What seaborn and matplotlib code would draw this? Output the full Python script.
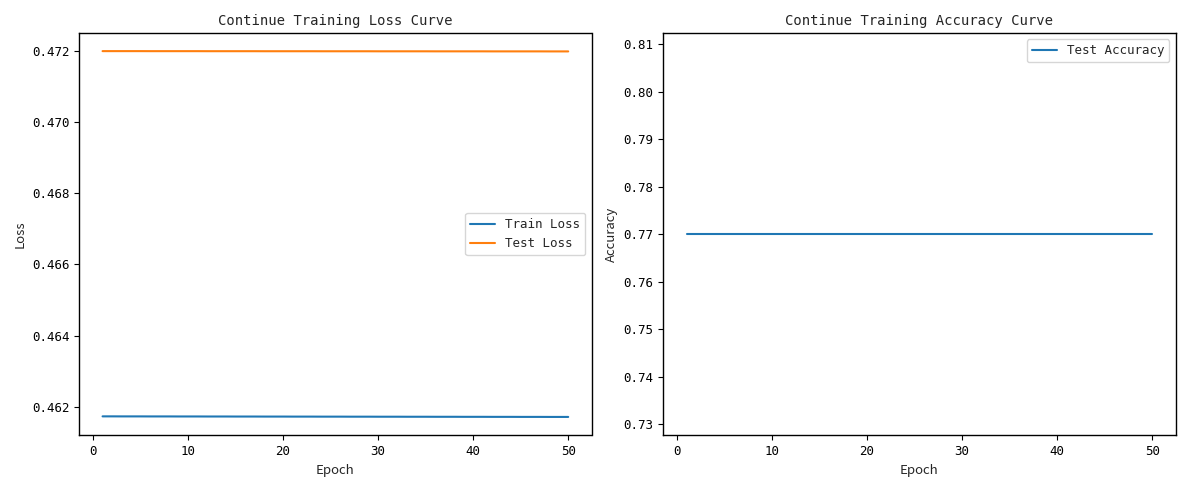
import matplotlib
matplotlib.use("Agg")
import matplotlib.pyplot as plt
import seaborn as sns

epochs = list(range(1, 51))
train_loss = [0.461735, 0.461735, 0.461734, 0.461734, 0.461734, 0.461733, 0.461733, 0.461733, 0.461732, 0.461732,
              0.461732, 0.461731, 0.461731, 0.461731, 0.461730, 0.461730, 0.461730, 0.461729, 0.461729, 0.461729,
              0.461728, 0.461728, 0.461728, 0.461727, 0.461727, 0.461727, 0.461726, 0.461726, 0.461726, 0.461725,
              0.461725, 0.461725, 0.461724, 0.461724, 0.461724, 0.461723, 0.461723, 0.461723, 0.461722, 0.461722,
              0.461722, 0.461721, 0.461721, 0.461721, 0.461720, 0.461720, 0.461720, 0.461719, 0.461719, 0.461719]
test_loss = [0.471990, 0.471990, 0.471990, 0.471990, 0.471990, 0.471989, 0.471989, 0.471989, 0.471989, 0.471989,
             0.471989, 0.471988, 0.471988, 0.471988, 0.471988, 0.471988, 0.471988, 0.471987, 0.471987, 0.471987,
             0.471987, 0.471987, 0.471987, 0.471986, 0.471986, 0.471986, 0.471986, 0.471986, 0.471986, 0.471985,
             0.471985, 0.471985, 0.471985, 0.471985, 0.471985, 0.471984, 0.471984, 0.471984, 0.471984, 0.471984,
             0.471984, 0.471983, 0.471983, 0.471983, 0.471983, 0.471983, 0.471983, 0.471982, 0.471982, 0.471982]
test_acc = [0.77] * 50

sns.set_theme(style="ticks")
plt.rcParams['font.family'] = ['DejaVu Sans Mono', 'Noto Sans CJK SC']
plt.rcParams.update({
    'font.size': 9,
    'xtick.labelsize': 9,
    'ytick.labelsize': 9,
    'legend.fontsize': 9,
    'axes.titlesize': 10,
    'axes.labelsize': 10,
    'lines.linewidth': 1.5,
})

fig, axes = plt.subplots(1, 2, figsize=(11.89, 4.9), dpi=100)
label_font = ['Noto Sans CJK SC', 'DejaVu Sans']

ax = axes[0]
sns.lineplot(x=epochs, y=train_loss, ax=ax, color="#1f77b4", label="Train Loss")
sns.lineplot(x=epochs, y=test_loss, ax=ax, color="#ff7f0e", label="Test Loss")
ax.set_title("Continue Training Loss Curve")
ax.set_xlabel("Epoch", family=label_font, fontsize=9.5)
ax.set_ylabel("Loss", family=label_font, fontsize=9.5)
ax.legend(loc="center right")
ax.ticklabel_format(axis='y', useOffset=False)

ax = axes[1]
sns.lineplot(x=epochs, y=test_acc, ax=ax, color="#1f77b4", label="Test Accuracy")
ax.set_title("Continue Training Accuracy Curve")
ax.set_xlabel("Epoch", family=label_font, fontsize=9.5)
ax.set_ylabel("Accuracy", family=label_font, fontsize=9.5)
ax.legend(loc="upper right")

for a in axes:
    for s in a.spines.values():
        s.set_color("black")
        s.set_linewidth(1.0)
    a.tick_params(colors="black", length=3.5, width=0.8)

fig.tight_layout()
fig.savefig("out.png", dpi=100)
